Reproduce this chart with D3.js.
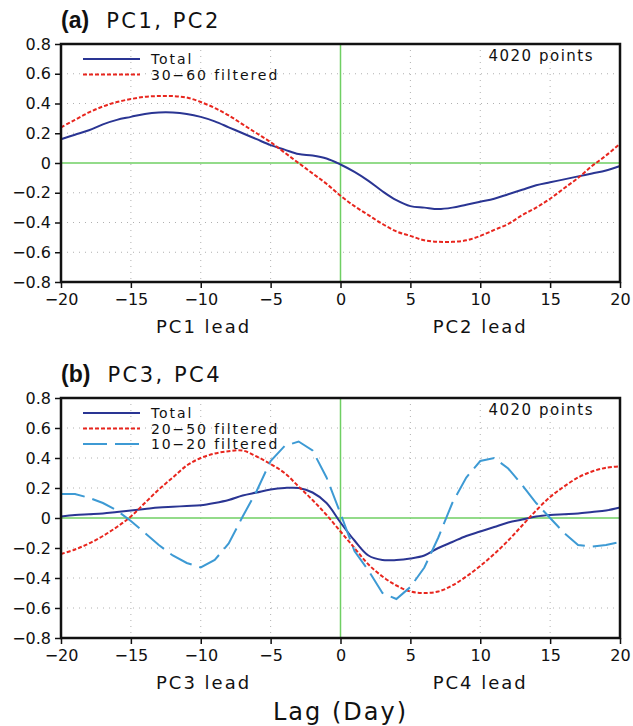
<!DOCTYPE html>
<html>
<head>
<meta charset="utf-8">
<script src="https://cdn.jsdelivr.net/npm/d3@7"></script>
<style>
  body { margin: 0; background: #fff; }
  text { font-family: "DejaVu Sans", sans-serif; fill: #111; }
</style>
</head>
<body>
<script>
var lags = d3.range(-20, 21);

// panel (a)
var totalA = [0.16, 0.19, 0.22, 0.26, 0.29, 0.31, 0.33, 0.34, 0.34, 0.33, 0.31, 0.28, 0.24, 0.20, 0.16, 0.12, 0.09, 0.06, 0.05, 0.03,
    -0.01, -0.06, -0.12, -0.19, -0.25, -0.29, -0.30, -0.31, -0.30, -0.28, -0.26, -0.24, -0.21, -0.18, -0.15, -0.13, -0.11, -0.09, -0.07, -0.05, -0.02];
var filt3060 = [0.24, 0.29, 0.34, 0.38, 0.41, 0.43, 0.445, 0.45, 0.45, 0.44, 0.41, 0.37, 0.32, 0.26, 0.20, 0.14, 0.07, 0.00, -0.07, -0.14,
    -0.22, -0.29, -0.35, -0.41, -0.46, -0.49, -0.52, -0.53, -0.53, -0.52, -0.49, -0.45, -0.41, -0.35, -0.30, -0.24, -0.17, -0.10, -0.02, 0.05, 0.13];

// panel (b)
var totalB = [0.01, 0.02, 0.025, 0.03, 0.04, 0.05, 0.06, 0.07, 0.075, 0.08, 0.085, 0.10, 0.12, 0.15, 0.17, 0.19, 0.20, 0.20, 0.17, 0.10,
    -0.03, -0.15, -0.25, -0.28, -0.28, -0.27, -0.25, -0.20, -0.16, -0.12, -0.09, -0.06, -0.03, -0.01, 0.01, 0.02, 0.025, 0.03, 0.04, 0.05, 0.07];
var filt2050 = [-0.24, -0.21, -0.17, -0.12, -0.06, 0.01, 0.10, 0.19, 0.27, 0.35, 0.40, 0.43, 0.445, 0.45, 0.41, 0.36, 0.30, 0.21, 0.12, 0.02,
    -0.09, -0.20, -0.31, -0.39, -0.45, -0.49, -0.50, -0.49, -0.45, -0.39, -0.32, -0.24, -0.15, -0.05, 0.05, 0.14, 0.21, 0.27, 0.31, 0.335, 0.345];
var filt1020 = [0.16, 0.16, 0.135, 0.10, 0.05, -0.02, -0.10, -0.18, -0.25, -0.30, -0.33, -0.28, -0.17, 0.01, 0.18, 0.38, 0.48, 0.51, 0.45, 0.27,
    0.03, -0.22, -0.35, -0.50, -0.54, -0.46, -0.33, -0.13, 0.10, 0.27, 0.38, 0.40, 0.33, 0.22, 0.10, 0.00, -0.10, -0.18, -0.19, -0.18, -0.16];

var xTicks = [-20, -15, -10, -5, 0, 5, 10, 15, 20];
var yTicks = [-0.8, -0.6, -0.4, -0.2, 0, 0.2, 0.4, 0.6, 0.8];

var W = 633, H = 726;
var svg = d3.select('body').append('svg')
    .attr('width', W)
    .attr('height', H);

var x = d3.scaleLinear().domain([-20, 20]).range([61, 620]);

var styles = {
    total: { color: '#2a3593', dash: null, width: 2, curve: d3.curveCatmullRom },
    red: { color: '#e8261e', dash: '4,2', width: 2, curve: d3.curveCatmullRom },
    cyan: { color: '#3d9ad4', dash: '24,8', width: 2, curve: d3.curveLinear }
};

function fmtY(d) {
    if (d === 0) return '0';
    return (d < 0 ? '\u2212' : '') + Math.abs(d).toFixed(1);
}
function fmtX(d) {
    return (d < 0 ? '\u2212' : '') + Math.abs(d);
}

function drawPanel(top, bottom, letter, title, leadL, leadR, series) {
    var y = d3.scaleLinear().domain([-0.8, 0.8]).range([bottom, top]);
    var g = svg.append('g');

    // title
    var t = g.append('text')
        .attr('x', 61)
        .attr('y', top - 16);
    t.append('tspan').attr('font-weight', 'bold').attr('font-size', 23)
        .attr('font-family', 'Liberation Sans, Arial, sans-serif').text(letter);
    t.append('tspan').attr('dx', 17).attr('font-size', 21).attr('letter-spacing', 2.5).text(title);

    // dotted grid
    g.selectAll('.vgrid')
        .data(xTicks.filter(function (d) { return d !== 0 && Math.abs(d) !== 20; }))
        .enter().append('line')
        .attr('x1', function (d) { return x(d); })
        .attr('x2', function (d) { return x(d); })
        .attr('y1', top).attr('y2', bottom)
        .attr('stroke', '#b0b0b0')
        .attr('stroke-width', 1)
        .attr('stroke-dasharray', '1,5');
    g.selectAll('.hgrid')
        .data(yTicks.filter(function (d) { return d !== 0 && Math.abs(d) !== 0.8; }))
        .enter().append('line')
        .attr('y1', function (d) { return y(d); })
        .attr('y2', function (d) { return y(d); })
        .attr('x1', x(-20)).attr('x2', x(20))
        .attr('stroke', '#b0b0b0')
        .attr('stroke-width', 1)
        .attr('stroke-dasharray', '1,5');

    // green zero lines
    g.append('line')
        .attr('x1', x(0)).attr('x2', x(0))
        .attr('y1', top).attr('y2', bottom)
        .attr('stroke', '#6fcf63').attr('stroke-width', 1.5);
    g.append('line')
        .attr('x1', x(-20)).attr('x2', x(20))
        .attr('y1', y(0)).attr('y2', y(0))
        .attr('stroke', '#6fcf63').attr('stroke-width', 1.5);

    // curves
    series.forEach(function (s) {
        var st = styles[s.style];
        var line = d3.line()
            .x(function (d, i) { return x(lags[i]); })
            .y(function (d) { return y(d); })
            .curve(st.curve);
        g.append('path')
            .datum(s.values)
            .attr('d', line)
            .attr('fill', 'none')
            .attr('stroke', st.color)
            .attr('stroke-width', st.width)
            .attr('stroke-dasharray', st.dash);
    });

    // frame
    g.append('rect')
        .attr('x', x(-20)).attr('y', top)
        .attr('width', x(20) - x(-20))
        .attr('height', bottom - top)
        .attr('fill', 'none')
        .attr('stroke', '#111')
        .attr('stroke-width', 2.5);

    // axes
    g.append('g')
        .attr('transform', 'translate(' + x(-20) + ',0)')
        .call(d3.axisLeft(y).tickValues(yTicks).tickFormat(fmtY).tickSize(6).tickPadding(4))
        .call(function (a) {
            a.select('.domain').remove();
            a.selectAll('line').attr('stroke', '#111').attr('stroke-width', 1.5);
            a.selectAll('text').attr('font-size', 16).attr('font-family', 'DejaVu Sans, sans-serif').attr('fill', '#111');
        });
    g.append('g')
        .attr('transform', 'translate(0,' + bottom + ')')
        .call(d3.axisBottom(x).tickValues(xTicks).tickFormat(fmtX).tickSize(6).tickPadding(6))
        .call(function (a) {
            a.select('.domain').remove();
            a.selectAll('line').attr('stroke', '#111').attr('stroke-width', 1.5);
            a.selectAll('text').attr('font-size', 16).attr('font-family', 'DejaVu Sans, sans-serif').attr('fill', '#111');
        });

    g.append('text')
        .attr('x', x(-9.8)).attr('y', bottom + 51)
        .attr('text-anchor', 'middle')
        .attr('font-size', 18)
        .attr('letter-spacing', 2)
        .text(leadL);
    g.append('text')
        .attr('x', x(10)).attr('y', bottom + 51)
        .attr('text-anchor', 'middle')
        .attr('font-size', 18)
        .attr('letter-spacing', 2)
        .text(leadR);

    // points count
    g.append('text')
        .attr('x', 594).attr('y', top + 17)
        .attr('text-anchor', 'end')
        .attr('font-size', 15)
        .attr('letter-spacing', 1.5)
        .text('4020 points');

    // legend
    series.forEach(function (s, i) {
        var st = styles[s.style];
        var ly = top + 15 + i * 15.5;
        g.append('line')
            .attr('x1', 83).attr('x2', 140)
            .attr('y1', ly).attr('y2', ly)
            .attr('stroke', st.color)
            .attr('stroke-width', st.width)
            .attr('stroke-dasharray', st.dash);
        g.append('text')
            .attr('x', 151).attr('y', ly + 5)
            .attr('font-size', 14)
            .attr('letter-spacing', 1.9)
            .text(s.name);
    });
}

drawPanel(44, 282, '(a)', 'PC1, PC2', 'PC1 lead', 'PC2 lead', [
    { name: 'Total', values: totalA, style: 'total' },
    { name: '30\u221260 filtered', values: filt3060, style: 'red' }
]);
drawPanel(398, 638, '(b)', 'PC3, PC4', 'PC3 lead', 'PC4 lead', [
    { name: 'Total', values: totalB, style: 'total' },
    { name: '20\u221250 filtered', values: filt2050, style: 'red' },
    { name: '10\u221220 filtered', values: filt1020, style: 'cyan' }
]);

svg.append('text')
    .attr('x', x(0)).attr('y', 720)
    .attr('text-anchor', 'middle')
    .attr('font-size', 24)
    .attr('letter-spacing', 2)
    .text('Lag (Day)');
</script>
</body>
</html>
